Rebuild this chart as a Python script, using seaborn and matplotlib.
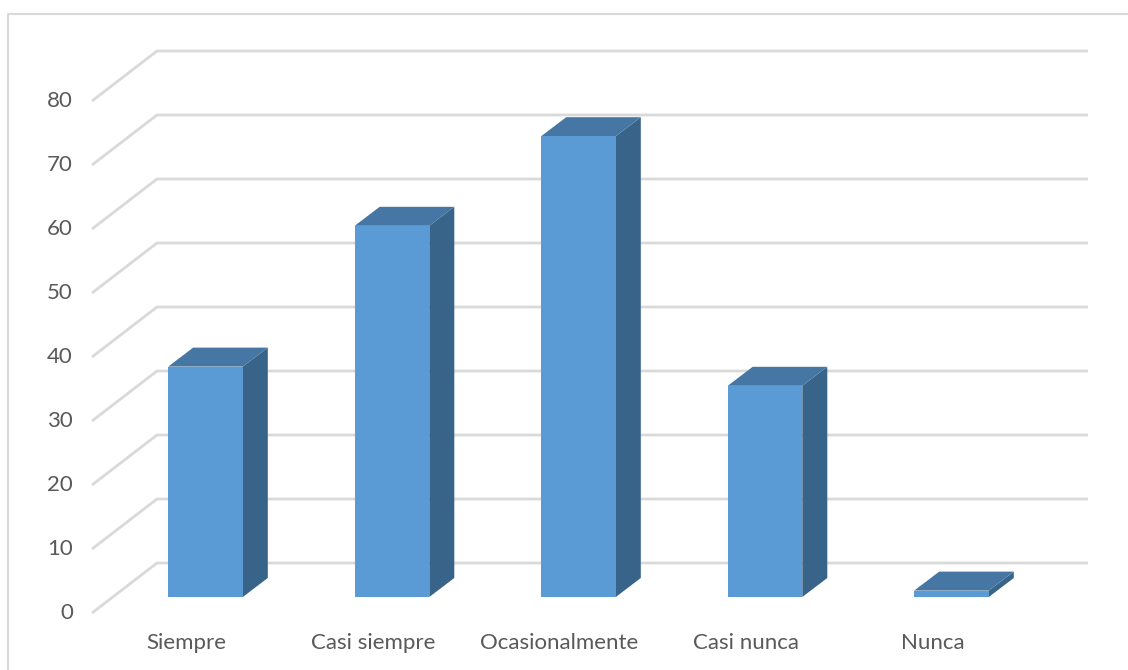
import matplotlib
matplotlib.use("Agg")
import matplotlib.pyplot as plt
import numpy as np
import pandas as pd
import seaborn as sns
from matplotlib.patches import Polygon

categories = ["Siempre", "Casi siempre", "Ocasionalmente", "Casi nunca", "Nunca"]
values = [36, 58, 72, 33, 1]
yticks = [0, 10, 20, 30, 40, 50, 60, 70, 80]

front_color = "#5B9BD5"
top_color = "#4676A3"
side_color = "#38648A"
grid_color = "#D9D9D9"
text_color = "#595959"

# pixel <-> data mapping (bar front plane is the data plane)
X0, SX = 205.5, 186.5   # px of first bar centre, px per category
Y0, SY = 597.0, 6.4     # px of value 0, px per unit


def px_x(px):
    return (px - X0) / SX


def px_y(py):
    return (Y0 - py) / SY


def off_x(d):
    return d / SX


def off_y(d):
    return d / SY


sns.set_style("white")
plt.rcParams["font.family"] = ["Lato", "DejaVu Sans"]

fig = plt.figure(figsize=(11.28, 6.70), dpi=100)
ax = fig.add_axes([0, 0, 1, 1])

df = pd.DataFrame({"cat": categories, "val": values})
sns.barplot(data=df, x="cat", y="val", order=categories, color=front_color,
            saturation=1, width=0.4, ax=ax, zorder=3, linewidth=0)

ax.set_xlim(px_x(0), px_x(1128))
ax.set_ylim(px_y(670), px_y(0))
ax.axis("off")

# back wall gridlines and left side diagonals
left_ref = 113  # px of left wall on the bar plane
for t in yticks:
    fx, fy = px_x(left_ref - 21), t - off_y(16)
    bx, by = px_x(left_ref + 44), t + off_y(34)
    ax.plot([fx, bx, px_x(1088)], [fy, by, by], color=grid_color, lw=2,
            solid_capstyle="butt", solid_joinstyle="miter", zorder=1)
    ax.text(px_x(73), fy, str(t), ha="right", va="center", fontsize=16,
            color=text_color)

# 3d faces on each bar
ddx, ddy = off_x(25), off_y(19)
for p in ax.patches[:len(values)]:
    x0 = p.get_x()
    x1 = x0 + p.get_width()
    h = p.get_height()
    side = Polygon([(x1, 0), (x1 + ddx, ddy), (x1 + ddx, h + ddy), (x1, h)],
                   closed=True, facecolor=side_color, edgecolor="none", zorder=2)
    top = Polygon([(x0, h), (x0 + ddx, h + ddy), (x1 + ddx, h + ddy), (x1, h)],
                  closed=True, facecolor=top_color, edgecolor="none", zorder=2)
    ax.add_patch(side)
    ax.add_patch(top)

# category labels on the front plane
for i, c in enumerate(categories):
    ax.text(i + off_x(-19), px_y(643), c, ha="center", va="center",
            fontsize=16, color=text_color)

# chart border
ax.plot([px_x(8), px_x(8), px_x(1130)], [px_y(672), px_y(14), px_y(14)],
        color=grid_color, lw=1.5, zorder=0)

fig.savefig("out.png", dpi=100)
